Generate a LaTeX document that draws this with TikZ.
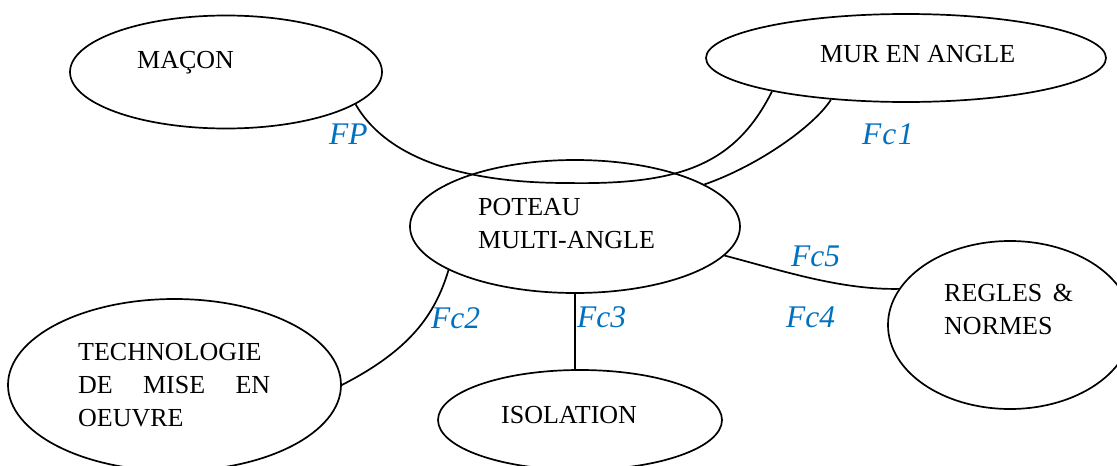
\documentclass[tikz,border=0pt]{standalone}
\usepackage{fontspec}
\setmainfont{Liberation Serif}
\usetikzlibrary{shapes.geometric}
\definecolor{lblblue}{HTML}{0070C0}
\begin{document}
\begin{tikzpicture}[x=1pt,y=-1pt,
  bubble/.style={draw, ellipse, line width=1.7pt, inner sep=0pt},
  txt/.style={anchor=base west, inner sep=0pt, font=\fontsize{26}{33}\selectfont},
  lbl/.style={anchor=base west, inner sep=0pt, text=lblblue, font=\itshape\fontsize{31.5}{38}\selectfont},
  link/.style={line width=1.7pt}]
\useasboundingbox (0,0) rectangle (1117,466);
\clip (0,0) rectangle (1117,466);

% ellipses
\node[bubble, minimum width=312pt, minimum height=113pt] (macon) at (226,72) {};
\node[bubble, minimum width=400pt, minimum height=88pt] (mur) at (906,58) {};
\node[bubble, minimum width=330pt, minimum height=133pt] (poteau) at (575,226.5) {};
\node[bubble, minimum width=333pt, minimum height=172pt] (tech) at (174.5,385) {};
\node[bubble, minimum width=284pt, minimum height=100pt] (isolation) at (580,420) {};
\node[bubble, minimum width=244pt, minimum height=168pt] (regles) at (1010,325) {};

% texts
\node[txt] (macont) at (137,68) {MAÇON};
\node[txt] (murt) at (820,62) {MUR EN ANGLE};
\node[txt, text width=200pt, align=left] (poteaut) at (478,215) {POTEAU\\MULTI-ANGLE};
\node[txt, text width=192pt, align=left] (techt) at (78,360) {TECHNOLOGIE\\DE\hfill MISE\hfill EN\\OEUVRE};
\node[txt] (isolationt) at (501,423) {ISOLATION};
\node[txt, text width=129pt, align=left] (reglest) at (944,301) {REGLES\hfill\&\\NORMES};

% connectors
\coordinate (fpmid) at (567,183);
\draw[link] (macon.-14) .. controls (383,152) and (450,183) .. (fpmid)
  .. controls (680,185) and (735,165) .. (mur.-166);
\draw[link] (mur.-151) .. controls (815,125) and (760,165) .. (poteau.18.5);
\draw[link] (poteau.-161) .. controls (435,315) and (410,350) .. (tech.0);
\draw[link] (poteau.south) -- (poteau.south |- isolation.north);
\draw[link] (poteau.-11.6) .. controls (780,270) and (840,290) .. (regles.162);

% labels
\node[lbl] (fp) at (329,144) {FP};
\node[lbl] (fc1) at (862,144) {F\kern1pt c\kern1.5pt 1};
\node[lbl] (fc5) at (791,266) {Fc5};
\node[lbl] (fc4) at (786,327) {Fc4};
\node[lbl] (fc3) at (577,327) {Fc3};
\node[lbl] (fc2) at (431,328) {Fc2};
\end{tikzpicture}
\end{document}
